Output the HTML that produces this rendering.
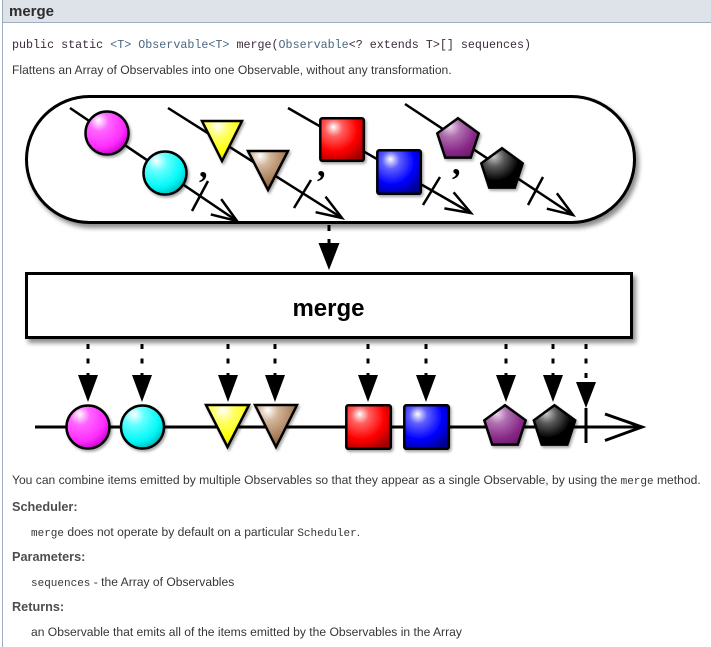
<!DOCTYPE html>
<html>
<head>
<meta charset="utf-8">
<style>
  html,body{margin:0;padding:0;background:#fff;}
  body{width:711px;height:647px;overflow:hidden;position:relative;}
  svg{position:absolute;left:0;top:0;display:block;}
</style>
</head>
<body>
<svg width="711" height="647" viewBox="0 0 711 647" xmlns="http://www.w3.org/2000/svg">
  <defs>
    <filter id="shBig" x="-5%" y="-10%" width="115%" height="130%">
      <feDropShadow dx="3" dy="4" stdDeviation="2.5" flood-color="#000" flood-opacity="0.45"/>
    </filter>
    <filter id="shSm" x="-20%" y="-20%" width="150%" height="150%">
      <feDropShadow dx="1.5" dy="2" stdDeviation="1.2" flood-color="#000" flood-opacity="0.35"/>
    </filter>
    <radialGradient id="gMag" cx="0.35" cy="0.3" r="0.75" fx="0.3" fy="0.2">
      <stop offset="0" stop-color="#ffffff"/><stop offset="0.3" stop-color="#ff66ff"/><stop offset="0.75" stop-color="#ff2bff"/><stop offset="1" stop-color="#c800c8"/>
    </radialGradient>
    <radialGradient id="gCyan" cx="0.35" cy="0.3" r="0.75" fx="0.3" fy="0.2">
      <stop offset="0" stop-color="#ffffff"/><stop offset="0.3" stop-color="#66ffff"/><stop offset="0.75" stop-color="#00f8f8"/><stop offset="1" stop-color="#00b8b8"/>
    </radialGradient>
    <radialGradient id="gYel" cx="0.4" cy="0.2" r="0.8" fx="0.4" fy="0.12">
      <stop offset="0" stop-color="#ffffff"/><stop offset="0.3" stop-color="#ffff70"/><stop offset="0.75" stop-color="#ffff00"/><stop offset="1" stop-color="#e0e000"/>
    </radialGradient>
    <radialGradient id="gBrn" cx="0.35" cy="0.2" r="0.8" fx="0.3" fy="0.12">
      <stop offset="0" stop-color="#ffffff"/><stop offset="0.3" stop-color="#d2b59a"/><stop offset="0.75" stop-color="#a87d58"/><stop offset="1" stop-color="#7e5737"/>
    </radialGradient>
    <radialGradient id="gRed" cx="0.35" cy="0.3" r="0.8" fx="0.3" fy="0.2">
      <stop offset="0" stop-color="#ffffff"/><stop offset="0.25" stop-color="#ff6060"/><stop offset="0.65" stop-color="#ff0000"/><stop offset="1" stop-color="#a00000"/>
    </radialGradient>
    <radialGradient id="gBlu" cx="0.35" cy="0.3" r="0.8" fx="0.3" fy="0.2">
      <stop offset="0" stop-color="#ffffff"/><stop offset="0.25" stop-color="#6060ff"/><stop offset="0.65" stop-color="#0000ff"/><stop offset="1" stop-color="#000090"/>
    </radialGradient>
    <radialGradient id="gPur" cx="0.35" cy="0.3" r="0.8" fx="0.3" fy="0.2">
      <stop offset="0" stop-color="#f0d8f0"/><stop offset="0.3" stop-color="#b070b0"/><stop offset="0.7" stop-color="#8a2b8a"/><stop offset="1" stop-color="#661866"/>
    </radialGradient>
    <radialGradient id="gBlk" cx="0.35" cy="0.3" r="0.8" fx="0.3" fy="0.2">
      <stop offset="0" stop-color="#cccccc"/><stop offset="0.3" stop-color="#5a5a5a"/><stop offset="0.7" stop-color="#000000"/><stop offset="1" stop-color="#000000"/>
    </radialGradient>
  </defs>

  <!-- page chrome -->
  <rect x="0" y="0" width="711" height="647" fill="#ffffff"/>
  <rect x="3" y="0" width="708" height="22" fill="#dee3e9"/>
  <rect x="3" y="22" width="708" height="1" fill="#9eadc0"/>
  <rect x="2" y="0" width="1" height="647" fill="#9eadc0"/>

  <text x="9" y="16" font-family="Liberation Sans, Arial, sans-serif" font-weight="bold" font-size="15" fill="#2c2c2c">merge</text>

  <text x="12" y="48" font-family="Liberation Mono, monospace" font-size="11.7" fill="#3d2a3a">public static <tspan fill="#4a6782">&lt;T&gt; Observable&lt;T&gt;</tspan> merge(<tspan fill="#4a6782">Observable</tspan>&lt;? extends T&gt;[] sequences)</text>

  <text x="12" y="74" font-family="Liberation Sans, Arial, sans-serif" font-size="12.1" fill="#353833">Flattens an Array of Observables into one Observable, without any transformation.</text>

  <!-- pill -->
  <rect x="26.5" y="96.5" width="608" height="126" rx="63" ry="63" fill="#ffffff" stroke="#000" stroke-width="3" filter="url(#shBig)"/>

  <!-- sequence lines, arrowheads, completion ticks -->
  <g stroke="#000" stroke-width="2.5" fill="none" stroke-linejoin="miter">
    <path d="M70 108 L237 221"/>
    <path d="M221.2 199.1 L237 221 L210.8 214.4"/>
    <path d="M192 211 L208 181"/>

    <path d="M168 108 L342 218"/>
    <path d="M325.5 196.6 L342 218 L315.6 212.2"/>
    <path d="M294 208 L311 180"/>

    <path d="M288 108 L471 213"/>
    <path d="M453.6 192.3 L471 213 L444.4 208.4"/>
    <path d="M423 205 L440 177"/>

    <path d="M405 104 L573 215"/>
    <path d="M556.9 193.3 L573 215 L546.8 208.7"/>
    <path d="M528 205 L543 177"/>
  </g>

  <!-- commas -->
  <g font-family="Liberation Serif, serif" font-weight="bold" font-size="34" fill="#000">
    <text x="199" y="177">,</text>
    <text x="317" y="176">,</text>
    <text x="452" y="174">,</text>
  </g>

  <!-- top shapes -->
  <g stroke="#000" stroke-width="2.5" filter="url(#shSm)">
    <circle cx="107" cy="133" r="21.5" fill="url(#gMag)"/>
    <circle cx="165" cy="173" r="21.5" fill="url(#gCyan)"/>
    <polygon points="202,121 242,121 222,161" fill="url(#gYel)"/>
    <polygon points="248,151 288,151 268,190" fill="url(#gBrn)"/>
    <rect x="320.3" y="118.3" width="43.5" height="42.5" rx="2" fill="url(#gRed)"/>
    <rect x="377.3" y="150.3" width="43.5" height="43.5" rx="2" fill="url(#gBlu)"/>
    <polygon points="458,118.2 478.7,133.3 470.8,157.6 445.2,157.6 437.3,133.3" fill="url(#gPur)"/>
    <polygon points="502,148.2 522.7,163.3 514.8,187.6 489.2,187.6 481.3,163.3" fill="url(#gBlk)"/>
  </g>

  <!-- arrow into merge box -->
  <path d="M329 225 L329 243" stroke="#000" stroke-width="3" stroke-dasharray="6 8"/>
  <polygon points="318.5,243 339.5,243 329,270" fill="#000"/>

  <!-- merge box -->
  <rect x="26.5" y="273.5" width="605" height="64" fill="#ffffff" stroke="#000" stroke-width="3" filter="url(#shBig)"/>
  <text x="328.5" y="316" text-anchor="middle" font-family="Liberation Sans, Arial, sans-serif" font-weight="bold" font-size="24" fill="#000">merge</text>

  <!-- dotted arrows out -->
  <g stroke="#000" stroke-width="3" stroke-dasharray="5 9.5">
    <path d="M88 344 L88 375"/>
    <path d="M142 344 L142 375"/>
    <path d="M228 344 L228 375"/>
    <path d="M275 344 L275 375"/>
    <path d="M368 344 L368 375"/>
    <path d="M426 344 L426 375"/>
    <path d="M506 344 L506 375"/>
    <path d="M553 344 L553 375"/>
    <path d="M586 344 L586 382"/>
  </g>
  <g fill="#000">
    <polygon points="78,375 98,375 88,402"/>
    <polygon points="132,375 152,375 142,402"/>
    <polygon points="218,375 238,375 228,402"/>
    <polygon points="265,375 285,375 275,402"/>
    <polygon points="358,375 378,375 368,402"/>
    <polygon points="416,375 436,375 426,402"/>
    <polygon points="496,375 516,375 506,402"/>
    <polygon points="543,375 563,375 553,402"/>
    <polygon points="576,382 596,382 586,408"/>
  </g>

  <!-- output timeline -->
  <g stroke="#000" stroke-width="3" fill="none">
    <path d="M35 427 L642 427"/>
    <path d="M605 414 L642 427 L605 440.5"/>
    <path d="M586 408 L586 443"/>
  </g>

  <!-- bottom shapes -->
  <g stroke="#000" stroke-width="2.5" filter="url(#shSm)">
    <circle cx="88" cy="427" r="21.5" fill="url(#gMag)"/>
    <circle cx="142.5" cy="427" r="21.5" fill="url(#gCyan)"/>
    <polygon points="206,405 249,405 227.5,447" fill="url(#gYel)"/>
    <polygon points="255,405 297,405 276,447" fill="url(#gBrn)"/>
    <rect x="346.3" y="405.3" width="44.5" height="43.5" rx="2" fill="url(#gRed)"/>
    <rect x="404.3" y="405.3" width="44.5" height="43.5" rx="2" fill="url(#gBlu)"/>
    <polygon points="505,405.2 525.7,420.3 517.8,444.6 492.2,444.6 484.3,420.3" fill="url(#gPur)"/>
    <polygon points="554.5,405.2 575.2,420.3 567.3,444.6 541.7,444.6 533.8,420.3" fill="url(#gBlk)"/>
  </g>

  <!-- description text -->
  <g font-family="Liberation Sans, Arial, sans-serif" font-size="12.1" fill="#353833">
    <text x="12" y="484">You can combine items emitted by multiple Observables so that they appear as a single Observable, by using the <tspan font-family="Liberation Mono, monospace" font-size="11">merge</tspan> method.</text>
    <text x="12" y="511" font-weight="bold" font-size="12.7" fill="#4e4e4e">Scheduler:</text>
    <text x="31" y="536"><tspan font-family="Liberation Mono, monospace" font-size="11">merge</tspan> does not operate by default on a particular <tspan font-family="Liberation Mono, monospace" font-size="11">Scheduler</tspan>.</text>
    <text x="12" y="561" font-weight="bold" font-size="12.7" fill="#4e4e4e">Parameters:</text>
    <text x="31" y="586"><tspan font-family="Liberation Mono, monospace" font-size="11">sequences</tspan> - the Array of Observables</text>
    <text x="12" y="611" font-weight="bold" font-size="12.7" fill="#4e4e4e">Returns:</text>
    <text x="31" y="636">an Observable that emits all of the items emitted by the Observables in the Array</text>
  </g>
</svg>
</body>
</html>
